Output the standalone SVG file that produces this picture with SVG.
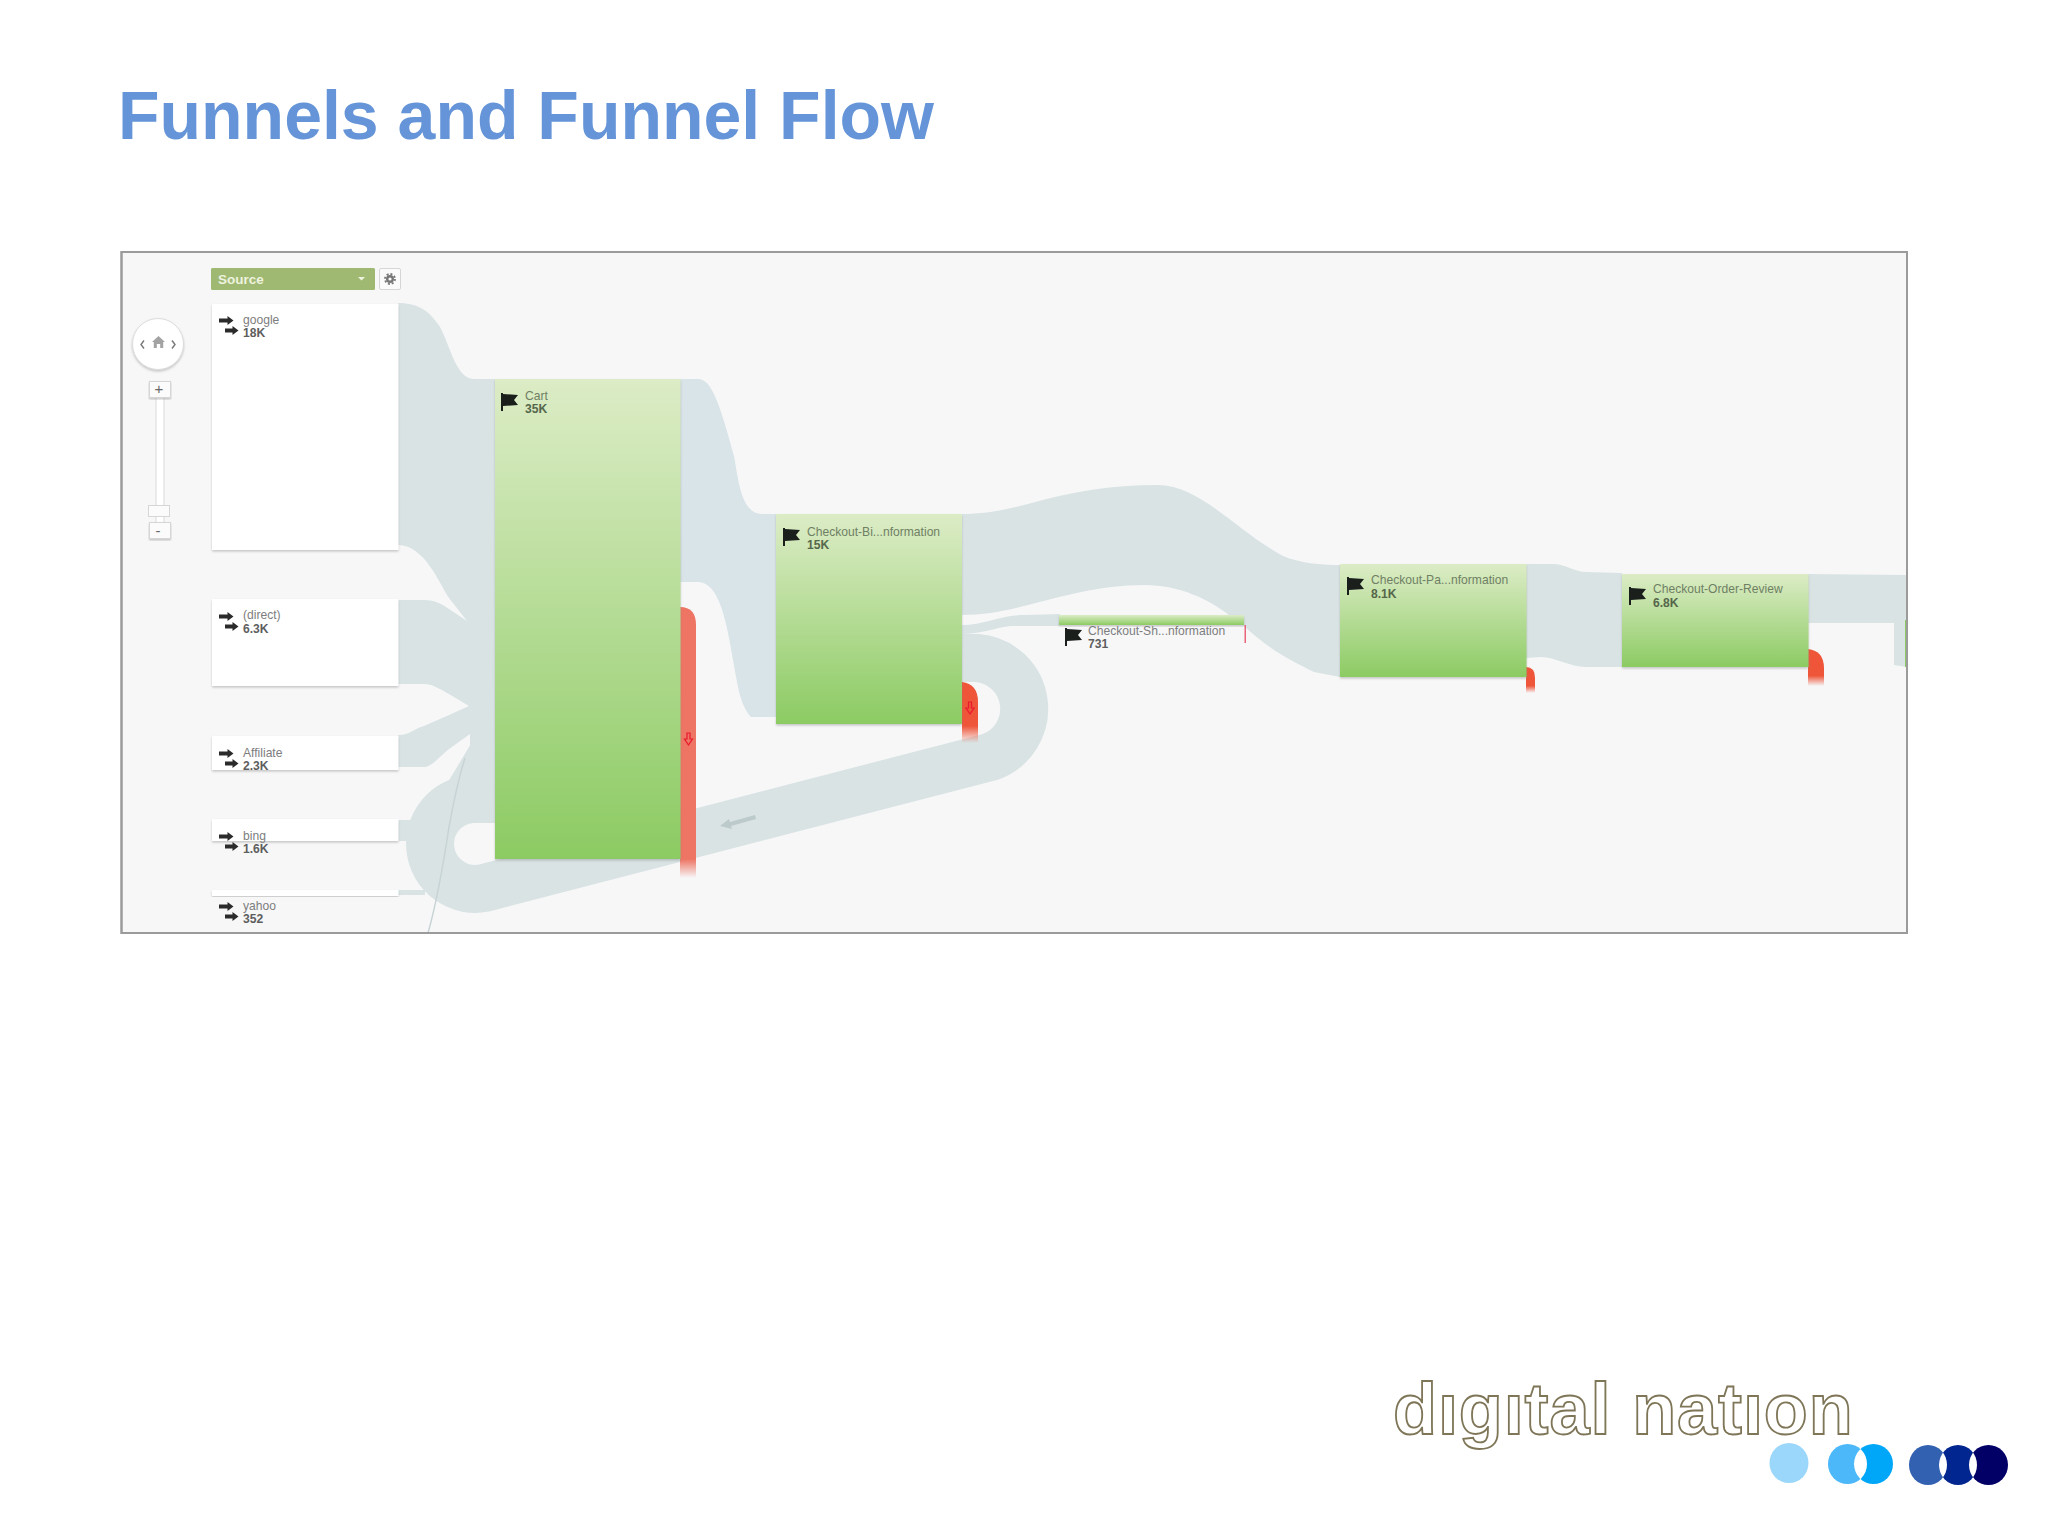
<svg xmlns="http://www.w3.org/2000/svg" width="2048" height="1536" viewBox="0 0 2048 1536">
<style>
.f{fill:#d9e3e4}
.fb{fill:#d9e4e8}
.n{fill:#fff;filter:url(#sh)}
.g{fill:url(#gr);filter:url(#sh)}
text{font-family:"Liberation Sans",Arial,sans-serif}
.l{font-size:12.1px;fill:#7d7d7d}
.v{font-size:12.1px;font-weight:bold;fill:#5e5e5e}
.lg{font-size:12.1px;fill:#6f7f64}
.vg{font-size:12.1px;font-weight:bold;fill:#55664b}
.b{fill:#fbfbfb;stroke:#d6d6d6;stroke-width:1}
</style>
<defs>
<linearGradient id="gr" x1="0" y1="0" x2="0" y2="1"><stop offset="0" stop-color="#dcecc6"/><stop offset="1" stop-color="#8ccb63"/></linearGradient>
<linearGradient id="r1" x1="0" y1="0" x2="0" y2="1"><stop offset="0" stop-color="#ee7463"/><stop offset=".93" stop-color="#ee7463"/><stop offset="1" stop-color="#ee7463" stop-opacity="0"/></linearGradient>
<linearGradient id="r2" x1="0" y1="0" x2="0" y2="1"><stop offset="0" stop-color="#ee5539"/><stop offset=".72" stop-color="#ee5539"/><stop offset="1" stop-color="#ee5539" stop-opacity="0"/></linearGradient>
<filter id="sh" x="-5%" y="-5%" width="110%" height="120%"><feDropShadow dx="0" dy="1.5" stdDeviation="1.2" flood-color="#888" flood-opacity=".45"/></filter>
<path id="ic-arrows" fill="#2b2b2b" d="M0 2.500h8.500V0l6 4.500-6 4.500V6.500H0zM6 12.500h7.500V10l6 4.500-6 4.500v-2.500H6z"/>
<path id="ic-flag" fill="#1a1f1c" d="M0 0h2v1L17 2l-4 5 4 5L2 13v5H0z"/>
<path id="ic-down" fill="none" stroke="#e8182e" stroke-width="1.200" d="M-1.500-6h3v6h2.500l-4 6-4-6h2.500z"/>
<clipPath id="c2"><ellipse cx="1873.500" cy="1464" rx="19.500" ry="20"/></clipPath>
<clipPath id="c3"><ellipse cx="1958" cy="1465" rx="19" ry="20"/></clipPath>
<clipPath id="c4"><ellipse cx="1988.500" cy="1465" rx="19.500" ry="20"/></clipPath>
</defs>
<rect width="2048" height="1536" fill="#fff"/>
<text x="118" y="139" font-size="68" font-weight="bold" fill="#6595d8">Funnels and Funnel Flow</text>
<rect id="panel" x="121.500" y="252" width="1785.500" height="681" fill="#f7f7f8" stroke="#9b9b9b" stroke-width="2"/>

<g id="connectors">
<path class="f" d="M398 303C420 303 430 312 440 327C450 345 456 379 474 379L495 379V810H470V734L449 749C440 756 432 767 424 767H398V735C410 735 415 728 424 726L449 715L469 706L449 694C440 689 432 684 424 684H398V600H424C435 600 442 604 449 609L467 621L449 598C440 585 425 545 398 545Z"/>
<path class="f" d="M398 820H430V841H398zM398 890H425V895H398zM472 742L448 782L472 790Z"/>
<path fill="none" stroke="#d9e3e4" stroke-width="48" d="M962 658H977A51 51 0 0 1 990 757L484 888A45 45 0 1 1 472 799H495"/>
<path fill="none" stroke="#c7d3d5" stroke-width="1.500" d="M428 933C436 905 444 860 449 827C453 805 458 780 465 758"/>
<path class="fb" d="M680 379H698C712 379 720 405 734 456C738 475 740 514 762 514H776V717H751C740 705 738 687 733 660C727 625 720 582 698 582H680Z"/>
<path class="f" d="M962 514C985 514 1005 510 1028 504C1070 492 1110 485 1158 485C1200 485 1235 530 1283 556C1300 563 1320 565 1340 565V677L1314 672C1290 660 1270 650 1245 627L1229 615C1210 600 1180 585 1144 585C1100 585 1060 597 1028 605C1005 611 985 615 962 615Z"/>
<path class="f" d="M962 625C985 625 1000 615 1025 615L1060 614V626H1010C995 628 980 634 962 634Z"/>
<path class="f" d="M1526 564H1553C1565 564 1575 572 1586 572L1622 573V667H1586C1570 667 1555 657 1541 657L1526 658Z"/>
<path class="f" d="M1808 574L1907 575V667L1894 665V623H1808Z"/>
<path fill="#bccacc" d="M720 826L729 819L730 822L755 815L756 819L731 826L732 829Z"/>
</g>

<g id="toolbar">
<rect x="211" y="268" width="164" height="22" rx="1.500" fill="#9fb872"/>
<text x="218" y="284" font-size="13.500" font-weight="bold" fill="#eef3df">Source</text>
<path d="M358 277h7l-3.500 3.500z" fill="#eef3df"/>
<rect class="b" x="379.500" y="268.500" width="21" height="21" rx="1.500"/>
<circle cx="390" cy="279" r="2.800" fill="none" stroke="#777" stroke-width="2.400"/>
<circle cx="390" cy="279" r="5" fill="none" stroke="#777" stroke-width="1.800" stroke-dasharray="2 1.900"/>
</g>
<g id="nav">
<circle cx="158" cy="344" r="25.500" fill="#fff" stroke="#dcdcdc" style="filter:url(#sh)"/>
<path d="M144 340.500l-3 4 3 4M172 340.500l3 4-3 4" fill="none" stroke="#777" stroke-width="1.400"/>
<path d="M158.500 336l6.500 6h-1.800v6h-3v-4h-3.400v4h-3v-6H152z" fill="#a3a3a3"/>
<rect x="156" y="396" width="8" height="128" fill="#fff" stroke="#d9d9d9"/>
<rect class="b" x="149.500" y="381.500" width="21" height="16" style="filter:url(#sh)"/>
<text x="159" y="394" font-size="15" fill="#666" text-anchor="middle">+</text>
<rect class="b" x="148.500" y="505.500" width="21" height="11"/>
<rect class="b" x="149.500" y="522.500" width="21" height="16" style="filter:url(#sh)"/>
<text x="158" y="536" font-size="15" fill="#666" text-anchor="middle">-</text>
</g>

<g id="node-google"><rect class="n" x="212" y="304" width="186.500" height="246"/><use href="#ic-arrows" x="219" y="316"/><text class="l" x="243" y="324">google</text><text class="v" x="243" y="337">18K</text></g>
<g id="node-direct"><rect class="n" x="212" y="599" width="186.500" height="87"/><use href="#ic-arrows" x="219" y="612"/><text class="l" x="243" y="619">(direct)</text><text class="v" x="243" y="633">6.3K</text></g>
<g id="node-affiliate"><rect class="n" x="212" y="736" width="186.500" height="34"/><use href="#ic-arrows" x="219" y="749"/><text class="l" x="243" y="757">Affiliate</text><text class="v" x="243" y="770">2.3K</text></g>
<g id="node-bing"><rect class="n" x="212" y="819" width="186.500" height="22"/><use href="#ic-arrows" x="219" y="832"/><text class="l" x="243" y="840">bing</text><text class="v" x="243" y="853">1.6K</text></g>
<g id="node-yahoo"><rect class="n" x="212" y="890" width="186.500" height="6"/><use href="#ic-arrows" x="219" y="902"/><text class="l" x="243" y="910">yahoo</text><text class="v" x="243" y="923">352</text></g>

<g id="node-cart"><path fill="url(#r1)" d="M680 607Q696 607 696 625V878H680Z"/><rect class="g" x="495" y="379" width="185.500" height="480"/><use href="#ic-flag" x="501" y="393"/><text class="lg" x="525" y="400">Cart</text><text class="vg" x="525" y="413">35K</text><use href="#ic-down" x="688.500" y="739"/></g>
<g id="node-billing"><path fill="url(#r2)" d="M962 682Q978 684 978 702V743H962Z"/><rect class="g" x="776" y="514" width="186" height="210"/><use href="#ic-flag" x="783" y="528"/><text class="lg" x="807" y="536">Checkout-Bi...nformation</text><text class="vg" x="807" y="549">15K</text><use href="#ic-down" x="970" y="708"/></g>
<g id="node-shipping"><rect x="1244.500" y="625" width="1.500" height="18" fill="#e8657a"/><rect class="g" x="1059" y="615" width="185" height="10"/><use href="#ic-flag" x="1065" y="628"/><text class="l" x="1088" y="635">Checkout-Sh...nformation</text><text class="v" x="1088" y="648">731</text></g>
<g id="node-payment"><path fill="url(#r2)" d="M1526 667Q1535 667 1535 678V693H1526Z"/><rect class="g" x="1340" y="564" width="186.500" height="113"/><use href="#ic-flag" x="1347" y="577"/><text class="lg" x="1371" y="584">Checkout-Pa...nformation</text><text class="vg" x="1371" y="598">8.1K</text></g>
<g id="node-order"><path fill="url(#r2)" d="M1808 649Q1824 651 1824 668V686H1808Z"/><rect class="g" x="1622" y="574" width="186.500" height="93"/><use href="#ic-flag" x="1629" y="587"/><text class="lg" x="1653" y="593">Checkout-Order-Review</text><text class="vg" x="1653" y="607">6.8K</text></g>
<g id="node-next"><rect x="1905" y="620" width="2" height="47" fill="#8ccb63"/></g>
<rect x="121.500" y="252" width="1785.500" height="681" fill="none" stroke="#9b9b9b" stroke-width="2"/>

<g id="logo">
<text x="1393" y="1434" font-size="72" font-weight="bold" letter-spacing="0.9" fill="#fff" stroke="#7f7658" stroke-width="1.800">dıgıtal natıon</text>
<ellipse cx="1789" cy="1463" rx="19.500" ry="20" fill="#9bd7fa"/>
<ellipse cx="1847.500" cy="1464" rx="19.500" ry="20" fill="#4db8f9"/>
<ellipse cx="1873.500" cy="1464" rx="19.500" ry="20" fill="#00a7f8"/>
<ellipse cx="1847.500" cy="1464" rx="19.500" ry="20" fill="#fff" clip-path="url(#c2)"/>
<ellipse cx="1928" cy="1465" rx="19" ry="20" fill="#3161b0"/>
<ellipse cx="1958" cy="1465" rx="19" ry="20" fill="#02268f"/>
<ellipse cx="1988.500" cy="1465" rx="19.500" ry="20" fill="#020066"/>
<ellipse cx="1928" cy="1465" rx="19" ry="20" fill="#fff" clip-path="url(#c3)"/>
<ellipse cx="1958" cy="1465" rx="19" ry="20" fill="#fff" clip-path="url(#c4)"/>
</g>
</svg>
